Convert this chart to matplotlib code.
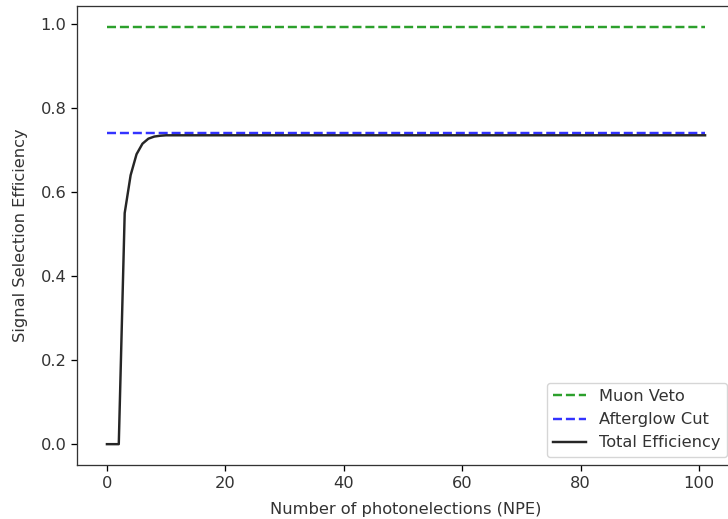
import numpy as np
import matplotlib
matplotlib.use("Agg")
import matplotlib.pyplot as plt


# ----------------------------------------------------------------------
# DATA
# ----------------------------------------------------------------------

npe = [0, 1, 2, 3, 4, 5, 6, 7, 8, 9, 10, 12, 15, 20, 30, 40, 50, 60, 70, 80, 90, 101]
total_eff = [0.0, 0.0, 0.0, 0.55, 0.64, 0.69, 0.715, 0.727, 0.732, 0.734, 0.735,
             0.735, 0.735, 0.735, 0.735, 0.735, 0.735, 0.735, 0.735, 0.735, 0.735, 0.735]
npe_range = [0, 101]
muon_veto = [0.993, 0.993]
afterglow_cut = [0.741, 0.741]


# ----------------------------------------------------------------------
# PLOTTING
# ----------------------------------------------------------------------

scale = 1.17
plt.rcParams.update({
    "font.size": 10 * scale,
    "lines.linewidth": 1.5 * scale,
    "axes.linewidth": 0.8 * scale,
    "xtick.major.size": 3.5 * scale,
    "ytick.major.size": 3.5 * scale,
    "xtick.major.width": 0.8 * scale,
    "ytick.major.width": 0.8 * scale,
    "text.color": "#333333",
    "axes.labelcolor": "#333333",
    "xtick.labelcolor": "#333333",
    "ytick.labelcolor": "#333333",
    "axes.edgecolor": "#333333",
})

fig = plt.figure(figsize=(7.28, 5.19), dpi=100)
# axes run slightly past the right edge, as in the cropped reference
ax = fig.add_axes([0.1058, 0.104, 0.9038, 0.8844])

ax.plot(npe_range, muon_veto, "--", color="tab:green", label="Muon Veto")
ax.plot(npe_range, afterglow_cut, "--", color="blue", alpha=0.8, label="Afterglow Cut")
ax.plot(npe, total_eff, "-", color="black", alpha=0.85, label="Total Efficiency")

ax.set_xlabel("Number of photonelections (NPE)", labelpad=8.5)
ax.set_ylabel("Signal Selection Efficiency", labelpad=9)
ax.legend(loc="lower right")

fig.savefig("out.png", dpi=100)
